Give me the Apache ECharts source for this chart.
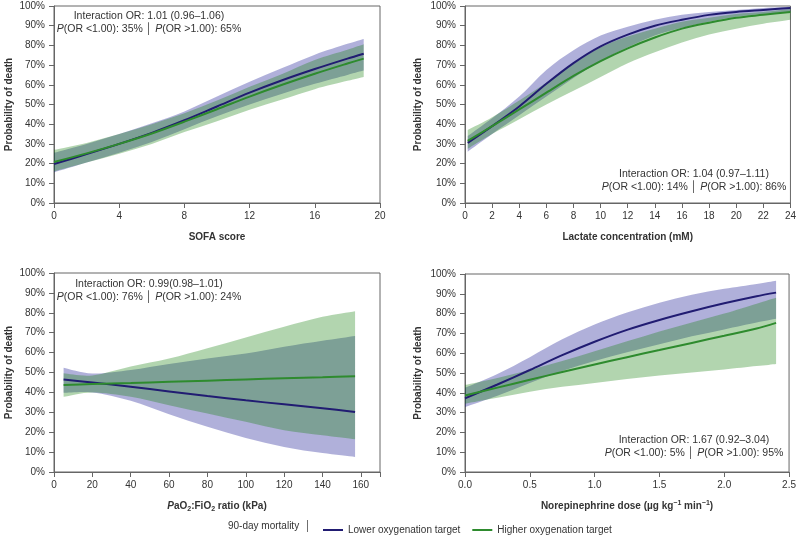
<!DOCTYPE html>
<html>
<head>
<meta charset="utf-8">
<script src="https://cdn.jsdelivr.net/npm/echarts@6/dist/echarts.min.js"></script>
<style>
  html, body { margin: 0; padding: 0; background: #fff; }
  #chart { width: 799px; height: 537px; }
</style>
</head>
<body>
<div id="chart"></div>
<script>
// SOFA score panel
const sofaX = [0, 2, 4, 6, 8, 10, 12, 14, 16, 18, 19]
const sofaLow = [19.8, 24.8, 30, 35.6, 42, 49, 56, 62.3, 68, 73.3, 75.8]
const sofaLowLo = [15.5, 20.5, 25.5, 31, 37.5, 44, 50, 55.5, 60.5, 65, 67.2]
const sofaLowHi = [25.5, 30, 35, 40.5, 46.5, 54, 61.5, 68.5, 75.3, 80.8, 83.3]
const sofaHigh = [20.8, 25.2, 30, 35.3, 41.3, 47.6, 54, 60, 65.6, 70.8, 73.3]
const sofaHighLo = [16, 20.5, 25, 30, 36, 41.5, 47.3, 52.5, 57.8, 62, 64]
const sofaHighHi = [27, 30.5, 35, 40, 45.5, 52, 59, 65.5, 72.6, 77.8, 80.6]

// lactate panel
const lacX = [0.2, 2, 4, 6, 8, 10, 12, 14, 16, 18, 20, 22, 24]
const lacLow = [30.5, 39, 49, 60.5, 71, 79.5, 85.5, 90, 93, 95.5, 97, 98, 99]
const lacLowLo = [26, 35, 44.5, 54, 63.5, 72, 79, 85, 89, 92, 94.5, 96, 97]
const lacLowHi = [34, 43, 54, 67.5, 77.5, 85, 89.5, 93, 95.5, 97, 98, 99, 99.6]
const lacHigh = [31.5, 39, 47.5, 56, 64.5, 72, 78.5, 84, 88.5, 91.5, 94, 95.5, 97]
const lacHighLo = [27.5, 35, 42.5, 50, 57, 64, 71, 76.5, 81.5, 85.5, 88.5, 91, 93]
const lacHighHi = [37, 43.5, 52, 61, 70.5, 79, 84.5, 88.5, 92, 94, 96, 97, 98.5]

// PaO2:FiO2 panel
const pfX = [5, 20, 40, 60, 80, 100, 120, 140, 157]
const pfLow = [46.5, 45, 42.8, 40.5, 38.2, 36, 34, 32, 30.2]
const pfLowLo = [39.8, 40, 35.8, 29, 22.7, 17.1, 12.6, 9.5, 7.6]
const pfLowHi = [52.4, 49.5, 51.3, 54.3, 57, 59.5, 63, 66, 68.4]
const pfHigh = [43.7, 44.2, 44.7, 45.3, 45.9, 46.5, 47.1, 47.6, 48.1]
const pfHighLo = [37.8, 40, 37.8, 33.6, 29.4, 25.2, 21, 18.5, 16.5]
const pfHighHi = [49.6, 48.5, 53, 57, 62.2, 67.6, 73, 78, 80.8]

// norepinephrine panel
const neX = [0, 0.25, 0.5, 0.75, 1.0, 1.25, 1.5, 1.75, 2.0, 2.25, 2.4]
const neLow = [37.2, 44.2, 51.5, 59, 65.8, 71.8, 76.8, 81.2, 85.2, 88.8, 90.6]
const neLowLo = [32.8, 38.5, 45, 51, 56, 60.5, 64.5, 68.5, 72, 75.5, 77.4]
const neLowHi = [42.5, 49.5, 58, 67, 74.5, 80.5, 85.5, 89.5, 92.5, 95, 96.6]
const neHigh = [38.6, 42.6, 46.6, 50.5, 54.3, 58, 61.6, 65.2, 68.8, 72.5, 75.3]
const neHighLo = [34.5, 37.5, 40.5, 43, 45, 47, 48.7, 50.3, 51.8, 53.5, 54.6]
const neHighHi = [44, 47.5, 51.5, 56, 61, 66, 71, 75.5, 80, 85, 88]

const yTicks = [0, 10, 20, 30, 40, 50, 60, 70, 80, 90, 100]

const NAVY = '#211c72'
const GREEN = '#2e8b2e'
const NAVY_BAND = 'rgba(10, 10, 140, 0.32)'
const GREEN_BAND = 'rgba(15, 125, 5, 0.32)'
const AXIS = '#666'
const TXT = '#333'
const FONT = '"Liberation Sans", Arial, sans-serif'

const zip = (x, y) => x.map((v, i) => [v, y[i]])

// catmull-rom through pixel points -> bezier path pieces
function curve(pts) {
  let d = ''
  for (let i = 0; i < pts.length - 1; i++) {
    const p0 = pts[Math.max(i - 1, 0)], p1 = pts[i], p2 = pts[i + 1], p3 = pts[Math.min(i + 2, pts.length - 1)]
    const c1 = [p1[0] + (p2[0] - p0[0]) / 6, p1[1] + (p2[1] - p0[1]) / 6]
    const c2 = [p2[0] - (p3[0] - p1[0]) / 6, p2[1] - (p3[1] - p1[1]) / 6]
    d += ' C' + c1[0] + ' ' + c1[1] + ' ' + c2[0] + ' ' + c2[1] + ' ' + p2[0] + ' ' + p2[1]
  }
  return d
}

function bandSeries(i, x, lo, hi, color) {
  return {
    type: 'custom', xAxisIndex: i, yAxisIndex: i, silent: true, z: 1,
    data: [0],
    renderItem: (params, api) => {
      const up = x.map((v, k) => api.coord([v, hi[k]]))
      const dn = x.map((v, k) => api.coord([v, lo[k]])).reverse()
      const d = 'M' + up[0][0] + ' ' + up[0][1] + curve(up) +
        ' L' + dn[0][0] + ' ' + dn[0][1] + curve(dn) + ' Z'
      return { type: 'path', shape: { pathData: d }, style: { fill: color } }
    }
  }
}

function lineSeries(i, name, x, y, color) {
  return {
    name: name, type: 'line', xAxisIndex: i, yAxisIndex: i,
    data: zip(x, y), color: color, symbol: 'none', smooth: 0.3, z: 5,
    lineStyle: { width: 2, color: color }
  }
}

function panel(i, x, low, lowLo, lowHi, high, highLo, highHi) {
  return [
    bandSeries(i, x, lowLo, lowHi, NAVY_BAND),
    bandSeries(i, x, highLo, highHi, GREEN_BAND),
    lineSeries(i, 'Lower oxygenation target', x, low, NAVY),
    lineSeries(i, 'Higher oxygenation target', x, high, GREEN)
  ]
}

const grids = [
  { left: 54, top: 6, width: 326, height: 197 },
  { left: 465, top: 6, width: 326, height: 197 },
  { left: 54, top: 273, width: 326, height: 199 },
  { left: 465, top: 274, width: 326, height: 198 }
].map(g => ({ ...g, show: true, borderColor: AXIS, borderWidth: 1 }))

function xAxis(i, name, max, interval, fmt, gap) {
  return {
    type: 'value', gridIndex: i, min: 0, max: max, interval: interval,
    name: name, nameLocation: 'middle', nameGap: gap,
    nameTextStyle: { fontWeight: 'bold', fontSize: 10, color: TXT, fontFamily: FONT,
      rich: {
        b: { fontWeight: 'bold', fontSize: 10, color: TXT, fontFamily: FONT },
        i: { fontWeight: 'bold', fontStyle: 'italic', fontSize: 10, color: TXT, fontFamily: FONT },
        sub: { fontWeight: 'bold', fontSize: 7, color: TXT, fontFamily: FONT, padding: [6, 0, 0, 0] },
        sup: { fontWeight: 'bold', fontSize: 7, color: TXT, fontFamily: FONT, padding: [0, 0, 5, 0] }
      }
    },
    axisLine: { show: true, lineStyle: { color: AXIS } },
    axisTick: { show: true, length: 5, lineStyle: { color: AXIS } },
    axisLabel: { fontSize: 10, color: TXT, fontFamily: FONT, margin: 8, formatter: fmt },
    splitLine: { show: false }
  }
}

function yAxis(i, gap) {
  return {
    type: 'value', gridIndex: i, min: yTicks[0], max: yTicks[yTicks.length - 1], interval: 10,
    name: 'Probability of death', nameLocation: 'middle', nameGap: gap,
    nameTextStyle: { fontWeight: 'bold', fontSize: 10, color: TXT, fontFamily: FONT },
    axisLine: { show: true, lineStyle: { color: AXIS } },
    axisTick: { show: true, length: 5, lineStyle: { color: AXIS } },
    axisLabel: { fontSize: 10, color: TXT, fontFamily: FONT, margin: 9, formatter: '{value}%' },
    splitLine: { show: false }
  }
}

function note(cx, top, line1, pLess, pMore) {
  return {
    type: 'text', x: cx, y: top, silent: true,
    style: {
      text: line1 + '\n{i|P}(OR <1.00): ' + pLess + ' │ {i|P}(OR >1.00): ' + pMore,
      fill: TXT, fontSize: 10.5, fontFamily: FONT, lineHeight: 13,
      align: 'center', textAlign: 'center', verticalAlign: 'top', textVerticalAlign: 'top',
      rich: { i: { fontStyle: 'italic', fontSize: 10.5, fontFamily: FONT, fill: TXT, color: TXT } }
    }
  }
}

const chart = echarts.init(document.getElementById('chart'))
chart.setOption({
  animation: false,
  textStyle: { fontFamily: FONT },
  grid: grids,
  xAxis: [
    xAxis(0, 'SOFA score', 20, 4, '{value}', 29),
    xAxis(1, 'Lactate concentration (mM)', 24, 2, '{value}', 29),
    xAxis(2, '{i|P}{b|aO}{sub|2}{b|:FiO}{sub|2}{b| ratio (kPa)}', 170, 20, v => (v % 20 === 0 ? String(v) : ''), 28),
    xAxis(3, '{b|Norepinephrine dose (µg kg}{sup|−1}{b| min}{sup|−1}{b|)}', 2.5, 0.5, v => v.toFixed(1), 28)
  ],
  yAxis: [yAxis(0, 40), yAxis(1, 42), yAxis(2, 40), yAxis(3, 42)],
  legend: {
    data: ['Lower oxygenation target', 'Higher oxygenation target'],
    left: 318, top: 520, icon: 'rect', itemWidth: 20, itemHeight: 2, itemGap: 12,
    textStyle: { fontSize: 10, color: TXT, fontFamily: FONT }
  },
  graphic: [
    note(149, 9.5, 'Interaction OR: 1.01 (0.96–1.06)', '35%', '65%'),
    note(694, 167.5, 'Interaction OR: 1.04 (0.97–1.11)', '14%', '86%'),
    note(149, 278, 'Interaction OR: 0.99(0.98–1.01)', '76%', '24%'),
    note(694, 434, 'Interaction OR: 1.67 (0.92–3.04)', '5%', '95%'),
    {
      type: 'text', x: 228, y: 526, silent: true,
      style: { text: '90-day mortality  │', fill: TXT, fontSize: 10, fontFamily: FONT,
        align: 'left', textAlign: 'left', verticalAlign: 'middle', textVerticalAlign: 'middle' }
    }
  ],
  series: [
    ...panel(0, sofaX, sofaLow, sofaLowLo, sofaLowHi, sofaHigh, sofaHighLo, sofaHighHi),
    ...panel(1, lacX, lacLow, lacLowLo, lacLowHi, lacHigh, lacHighLo, lacHighHi),
    ...panel(2, pfX, pfLow, pfLowLo, pfLowHi, pfHigh, pfHighLo, pfHighHi),
    ...panel(3, neX, neLow, neLowLo, neLowHi, neHigh, neHighLo, neHighHi)
  ]
})
</script>
</body>
</html>
